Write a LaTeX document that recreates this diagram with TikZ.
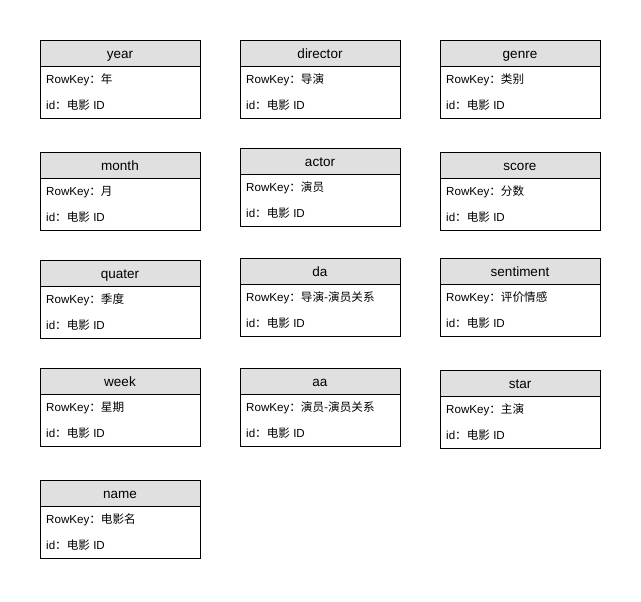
\documentclass[tikz,border=0pt]{standalone}
\usepackage{fontspec}
\setmainfont{Liberation Sans}
\newfontfamily\cjk{Noto Sans CJK SC}
\definecolor{hdrgray}{HTML}{E0E0E0}
\newcommand\mytable[5]{%
 \node[hdr] (#1) at ({#2+80},{#3+13}) {#4};
 \node[bodybox] (#1-body) at ({#2+80},{#3+52}) {};
 \node[txt] (#1-key) at ({#2+6},{#3+39.5}) {RowKey{\cjk ：#5}};
 \node[txt] (#1-id) at ({#2+6},{#3+65.5}) {id{\cjk ：电影} ID};
}
\begin{document}
\begin{tikzpicture}[x=1pt,y=-1pt,
  hdr/.style={draw=black, line width=0.8pt, fill=hdrgray, minimum width=160pt, minimum height=26pt, inner sep=0pt, text height=10.5pt, text depth=0pt, font=\fontsize{13.5}{15}\selectfont},
  bodybox/.style={draw=black, line width=0.8pt, fill=white, minimum width=160pt, minimum height=52pt, inner sep=0pt},
  txt/.style={anchor=west, inner sep=0pt, text height=8.6pt, text depth=0pt, font=\fontsize{11.6}{14}\selectfont}]
\useasboundingbox (0,0) rectangle (641,602);
\mytable{year}{40}{40}{year}{年}
\mytable{director}{240}{40}{director}{导演}
\mytable{genre}{440}{40}{genre}{类别}
\mytable{month}{40}{152}{month}{月}
\mytable{actor}{240}{148}{actor}{演员}
\mytable{score}{440}{152}{score}{分数}
\mytable{quater}{40}{260}{quater}{季度}
\mytable{da}{240}{258}{da}{导演-演员关系}
\mytable{sentiment}{440}{258}{sentiment}{评价情感}
\mytable{week}{40}{368}{week}{星期}
\mytable{aa}{240}{368}{aa}{演员-演员关系}
\mytable{star}{440}{370}{star}{主演}
\mytable{name}{40}{480}{name}{电影名}
\end{tikzpicture}
\end{document}
